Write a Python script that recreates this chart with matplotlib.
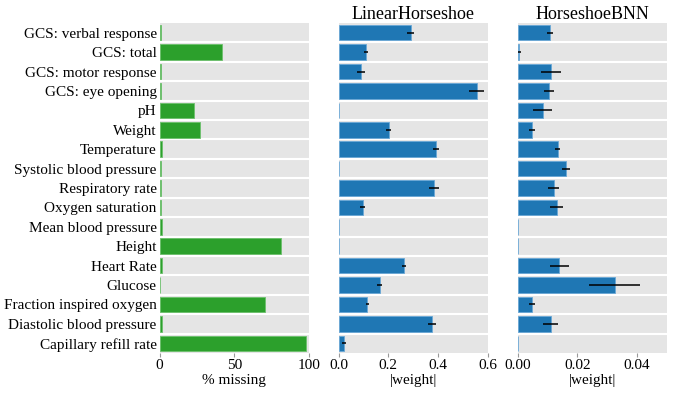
import matplotlib
matplotlib.use("Agg")
import matplotlib.pyplot as plt
import numpy as np

plt.rcParams['font.family'] = ['Liberation Serif', 'DejaVu Serif']

features = ["GCS: verbal response", "GCS: total", "GCS: motor response",
            "GCS: eye opening", "pH", "Weight", "Temperature",
            "Systolic blood pressure", "Respiratory rate", "Oxygen saturation",
            "Mean blood pressure", "Height", "Heart Rate", "Glucose",
            "Fraction inspired oxygen", "Diastolic blood pressure",
            "Capillary refill rate"]

pct_missing = [1.0, 41.7, 1.0, 1.0, 23.1, 26.9, 1.8, 1.0, 1.2, 1.0,
               1.5, 81.3, 1.5, 0.3, 70.9, 1.5, 98.3]

linear_mean = [0.289, 0.110, 0.090, 0.555, 0.001, 0.201, 0.392, 0.001,
               0.383, 0.097, 0.0005, 0.0005, 0.262, 0.165, 0.116, 0.376, 0.022]
linear_err = [0.016, 0.007, 0.016, 0.030, 0.0, 0.009, 0.012, 0.0,
              0.020, 0.009, 0.0, 0.0, 0.009, 0.009, 0.007, 0.017, 0.008]

bnn_mean = [0.0108, 0.0005, 0.0113, 0.0105, 0.0085, 0.0047, 0.0134, 0.0161,
            0.0121, 0.0131, 0.00005, 0.00005, 0.0140, 0.0325, 0.0049, 0.0111, 0.00005]
bnn_err = [0.0011, 0.0007, 0.0034, 0.0016, 0.0032, 0.0010, 0.0008, 0.0013,
           0.0019, 0.0022, 0.0, 0.0, 0.0032, 0.0085, 0.0010, 0.0026, 0.0]

fig = plt.figure(figsize=(6.75, 3.93), dpi=100)
W, H = 675, 393
def ax_at(x0, x1, y0=23, y1=353):
    return fig.add_axes([x0 / W, 1 - y1 / H, (x1 - x0) / W, (y1 - y0) / H])

ax1 = ax_at(159.5, 309)
ax2 = ax_at(338.5, 488)
ax3 = ax_at(517.5, 667)

n = len(features)
y = np.arange(n)

def style(ax, xmax, ticks, ticklabels, xlabel):
    ax.set_facecolor('#e5e5e5')
    ax.set_xlim(0, xmax)
    ax.set_ylim(n - 0.5, -0.5)
    for i in range(n - 1):
        ax.axhline(i + 0.5, color='white', lw=1.5, zorder=1)
    for s in ax.spines.values():
        s.set_visible(False)
    ax.set_xticks(ticks)
    ax.set_xticklabels(ticklabels)
    ax.tick_params(axis='x', length=3, color='#999999', labelsize=11, pad=1)
    ax.tick_params(axis='y', length=0)
    ax.set_xlabel(xlabel, fontsize=11, labelpad=2)

style(ax1, 100, [0, 50, 100], ['0', '50', '100'], '% missing')
ax1.barh(y, pct_missing, height=0.8, color='#2ca02c', edgecolor='#6cc06c',
         linewidth=0.6, zorder=2)
ax1.set_yticks(y)
ax1.set_yticklabels(features, fontsize=11)
ax1.tick_params(axis='y', pad=2)

style(ax2, 0.6, [0.0, 0.2, 0.4, 0.6], ['0.0', '0.2', '0.4', '0.6'], '|weight|')
ax2.barh(y, linear_mean, height=0.8, color='#1f77b4', edgecolor='#6aa8d6',
         linewidth=0.6, zorder=2)
ax2.errorbar(linear_mean, y, xerr=linear_err, fmt='none', ecolor='black',
             elinewidth=1.1, capsize=0, zorder=3)
ax2.set_yticks([])
ax2.set_title('LinearHorseshoe', fontsize=13, pad=3)

style(ax3, 0.05, [0.0, 0.02, 0.04], ['0.00', '0.02', '0.04'], '|weight|')
ax3.barh(y, bnn_mean, height=0.8, color='#1f77b4', edgecolor='#6aa8d6',
         linewidth=0.6, zorder=2)
ax3.errorbar(bnn_mean, y, xerr=bnn_err, fmt='none', ecolor='black',
             elinewidth=1.1, capsize=0, zorder=3)
ax3.set_yticks([])
ax3.set_title('HorseshoeBNN', fontsize=13, pad=3)

fig.savefig('out.png', dpi=100)
